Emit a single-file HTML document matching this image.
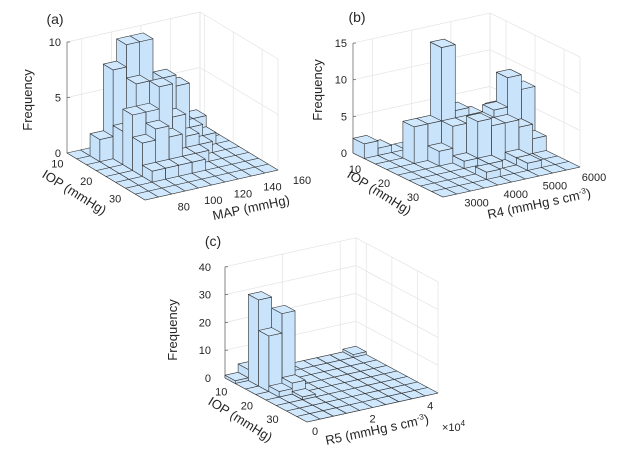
<!DOCTYPE html>
<html><head><meta charset="utf-8"><style>
html,body{margin:0;padding:0;background:#fff;}
svg{display:block;font-family:"Liberation Sans",Arial,sans-serif;}
</style></head><body>
<svg id="chart" width="633" height="453" viewBox="0 0 633 453"></svg>
<script>
// ---- data (rows: IOP bins, cols: second variable bins) ----
const histA = [
 [0,0,1,0,0,1,1,0,0,0],
 [0,2,8,10,10,6,3,1,2,0],
 [0,0,3,7,6,7,6,2,1,0],
 [0,0,5,5,7,4,2,1,0,0],
 [0,0,3,4,3,1,1,0,0,0],
 [0,0,1,1,1,1,0,0,0,0],
 [0,0,0,0,0,0,0,0,0,0],
 [0,0,0,0,0,0,0,0,0,0]];
const histB = [
 [2,1,0,0,0,0,0,0,0,0],
 [0,0,0,0,0,0,0,0,0,0],
 [0,0,5,5,15,6,5,4,5,0],
 [0,0,0,2,5,5,5,6,10,8],
 [0,0,0,0,1,6,5,5,4,2],
 [0,0,0,0,0,1,0,1,0,0],
 [0,0,0,0,1,0,0,1,0,0],
 [0,0,0,0,0,0,0,0,0,0]];
const histC = [
 [1,4,0,0,0,0,0,0,0,1],
 [0,31,0,0,0,0,0,0,0,0],
 [0,20,27,0,0,0,0,0,0,0],
 [0,2,4,0,0,0,0,0,0,0],
 [0,0,1,0,0,0,0,0,0,0],
 [0,0,0,0,0,0,0,0,0,0],
 [0,0,0,0,0,0,0,0,0,0],
 [0,0,0,0,0,0,0,0,0,0]];
const zTicksA = [0,5,10];
const zTicksB = [0,5,10,15];
const zTicksC = [0,10,20,30,40];
const iopTicks = [10,20,30];
const mapTicks = [80,100,120,140,160];
const r4Ticks = [3000,4000,5000,6000];
const r5Ticks = [0,2,4];

const NS='http://www.w3.org/2000/svg';
const svg=document.getElementById('chart');
function el(tag,attrs,parent){const e=document.createElementNS(NS,tag);for(const k in attrs)e.setAttribute(k,attrs[k]);(parent||svg).appendChild(e);return e;}

function panel(cfg){
  const g=el('g',{});
  
  
  const L=cfg.L,F=cfg.F,R=cfg.R;
  const P=(u,v,h)=>[L[0]+u*(F[0]-L[0])+v*(R[0]-F[0]), L[1]+u*(F[1]-L[1])+v*(R[1]-F[1])-h*cfg.zs];
  const pts=a=>a.map(p=>p[0].toFixed(2)+','+p[1].toFixed(2)).join(' ');
  const line=(a,b,st,w)=>el('line',{x1:a[0],y1:a[1],x2:b[0],y2:b[1],stroke:st,'stroke-width':w||0.7},g);
  const zmax=cfg.zTicks[cfg.zTicks.length-1];
  const uf=x=>(x-cfg.uLo)/(cfg.uHi-cfg.uLo), vf=x=>(x-cfg.vLo)/(cfg.vHi-cfg.vLo);
  const grid='#e3e3e3';
  cfg.zTicks.forEach(z=>{line(P(0,0,z),P(0,1,z),grid);line(P(0,1,z),P(1,1,z),grid);});
  cfg.vTicks.forEach(t=>{const f=vf(t);if(f>=0&&f<=1)line(P(0,f,0),P(0,f,zmax),grid);});
  cfg.iopTicks.forEach(t=>{const f=uf(t);line(P(f,1,0),P(f,1,zmax),grid);});
  line(P(0,1,0),P(0,1,zmax),grid);line(P(1,1,0),P(1,1,zmax),grid);
  const ax='#5a5a5a';
  line(P(0,0,0),P(0,0,zmax),ax);
  line(P(0,0,0),P(1,0,0),ax);
  line(P(1,0,0),P(1,1,0),ax);
  cfg.zTicks.forEach(z=>{
    line(P(0,0,z),[P(0,0,z)[0]+3,P(0,0,z)[1]],ax);
    const t=el('text',{x:P(0,0,z)[0]-cfg.zOff,y:P(0,0,z)[1]+4,'font-size':11,'text-anchor':'end',fill:'#262626'},g);
    t.textContent=z;
  });
  cfg.iopTicks.forEach(v=>{const p=P(uf(v),0,0);
    const t=el('text',{x:p[0]-14,y:p[1]+12,'font-size':11,'text-anchor':'middle',fill:'#262626'},g);
    t.textContent=v;});
  cfg.vTicks.forEach(v=>{const p=P(1,vf(v),0);
    const t=el('text',{x:p[0]+cfg.vOff[0],y:p[1]+cfg.vOff[1],'font-size':11,'text-anchor':'middle',fill:'#262626'},g);
    t.textContent=v;});
  const H=cfg.data, nI=H.length, nJ=H[0].length;
  const cells=[];
  for(let i=0;i<nI;i++)for(let j=0;j<nJ;j++)cells.push([i,j]);
  cells.sort((a,b)=>(a[0]-a[1])-(b[0]-b[1]));
  cells.forEach(([i,j])=>{
    const h=H[i][j],u0=i/nI,u1=(i+1)/nI,v0=j/nJ,v1=(j+1)/nJ;
    const bg=el('g',{},g);
    
    
    const st={stroke:'#333','stroke-width':0.6,'stroke-linejoin':'round'};
    if(h>0){
      el('polygon',Object.assign({points:pts([P(u1,v0,0),P(u1,v1,0),P(u1,v1,h),P(u1,v0,h)]),fill:'#c9e3fb'},st),bg);
      el('polygon',Object.assign({points:pts([P(u0,v0,0),P(u1,v0,0),P(u1,v0,h),P(u0,v0,h)]),fill:'#c6e1fa'},st),bg);
    }
    el('polygon',Object.assign({points:pts([P(u0,v0,h),P(u1,v0,h),P(u1,v1,h),P(u0,v1,h)]),fill:'#d0e8fd'},st),bg);
  });
  const tx=(s,x,y,rot,name,fs)=>{const t=el('text',{x:x,y:y,'font-size':fs||13,'text-anchor':'middle',fill:'#262626',transform:'rotate('+rot+' '+x+' '+y+')'},g);
    t.innerHTML=s;return t;};
  tx('Frequency',cfg.fq[0],cfg.fq[1],-90,'z-axis-title');
  tx('IOP (mmHg)',cfg.iopT[0],cfg.iopT[1],32,'iop-axis-title');
  tx(cfg.xTitle,cfg.xT[0],cfg.xT[1],-12,'x-axis-title');
  tx(cfg.letter,cfg.lp[0],cfg.lp[1],0,'panel-label',14);
}

panel({name:'panel-a',data:histA,L:[67,153],F:[145,200],R:[278,170],zs:11.1,zTicks:zTicksA,zOff:6,
  uLo:8.5,uHi:35.5,iopTicks:iopTicks,vLo:70,vHi:160,vTicks:mapTicks,vOff:[24,14],
  fq:[32,100],iopT:[72,196],xT:[252,212],xTitle:'MAP (mmHg)',letter:'(a)',lp:[55,24]});
panel({name:'panel-b',data:histB,L:[353,153],F:[443,197],R:[580,167],zs:7.33,zTicks:zTicksB,zOff:6,
  uLo:4.5,uHi:35.5,iopTicks:iopTicks,vLo:2500,vHi:6000,vTicks:r4Ticks,vOff:[14,14],
  fq:[322,90],iopT:[377,196],xT:[540,208],xTitle:'R4 (mmHg s cm<tspan font-size="8" dy="-5">-3</tspan><tspan dy="5">)</tspan>',letter:'(b)',lp:[357,22]});
panel({name:'panel-c',data:histC,L:[225,378],F:[307,422],R:[438,393],zs:2.78,zTicks:zTicksC,zOff:14,
  uLo:6,uHi:38,iopTicks:iopTicks,vLo:0,vHi:4.55,vTicks:r5Ticks,vOff:[8,13],
  fq:[177,330],iopT:[238,423],xT:[378,434],xTitle:'R5 (mmHg s cm<tspan font-size="8" dy="-5">-3</tspan><tspan dy="5">)</tspan>',letter:'(c)',lp:[213,246]});
const ex=el('text',{x:442,y:431,'font-size':11,fill:'#262626'});


ex.innerHTML='×10<tspan font-size="8" dy="-5">4</tspan>';
</script>
</body></html>
